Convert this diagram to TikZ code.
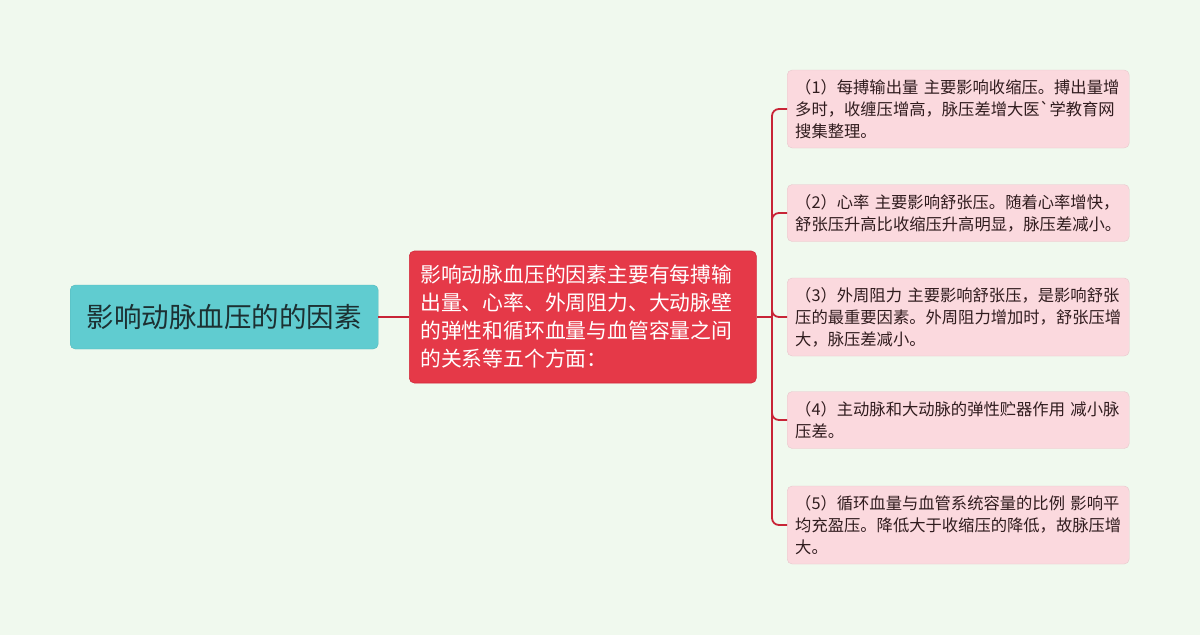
\documentclass[tikz,border=0pt]{standalone}
\usepackage{fontspec}
\setmainfont{Noto Sans CJK SC}
\definecolor{bgcol}{RGB}{240,249,238}
\definecolor{rootcol}{RGB}{96,204,208}
\definecolor{roottext}{RGB}{28,48,50}
\definecolor{midcol}{RGB}{229,57,72}
\definecolor{midline}{RGB}{210,40,58}
\definecolor{leafcol}{RGB}{251,217,222}
\definecolor{leaftext}{RGB}{48,28,30}
\definecolor{linkcol}{RGB}{200,36,54}
\begin{document}
\begin{tikzpicture}[x=1pt,y=-1pt]
\tikzstyle{myroot} = [rectangle, rounded corners=5pt, fill=rootcol, draw=rootcol!90!black, line width=0.4pt, text=roottext, anchor=west, minimum width=308pt, minimum height=64pt, inner sep=0pt, font=\fontsize{27.5}{30}\selectfont] % центральная тема
\tikzstyle{mymid} = [rectangle, rounded corners=5pt, fill=midcol, draw=midline, line width=0.6pt, text=white, anchor=west, text width=325pt, minimum height=132pt, inner xsep=11pt, inner ysep=0pt, align=left, font=\fontsize{20.8}{28}\selectfont] % узел второго уровня
\tikzstyle{myleaf} = [rectangle, rounded corners=5pt, fill=leafcol, draw=leafcol!92!black, line width=0.4pt, text=leaftext, anchor=west, text width=326pt, inner xsep=8pt, inner ysep=0pt, align=left, font=\fontsize{16.3}{22}\selectfont] % листья
\tikzstyle{mylink} = [draw=linkcol, line width=1.8pt, rounded corners=7pt] % связи

% фон
\fill[bgcol] (0,0) rectangle (1200,635);
\useasboundingbox (0,0) rectangle (1200,635);

\node[myroot] (root) at (70,317) {影响动脉血压的的因素};
\node[mymid] (mid) at (409,317) {影响动脉血压的因素主要有每搏输\\出量、心率、外周阻力、大动脉壁\\的弹性和循环血量与血管容量之间\\的关系等五个方面：};

\node[myleaf, minimum height=78pt] (f1) at (787,109) {（1）每搏输出量 主要影响收缩压。搏出量增\\多时，收缠压增高，脉压差增大医\textasciigrave 学教育网\\搜集整理。};
\node[myleaf, minimum height=57pt] (f2) at (787,213) {（2）心率 主要影响舒张压。随着心率增快，\\舒张压升高比收缩压升高明显，脉压差减小。};
\node[myleaf, minimum height=78pt] (f3) at (787,317) {（3）外周阻力 主要影响舒张压，是影响舒张\\压的最重要因素。外周阻力增加时，舒张压增\\大，脉压差减小。};
\node[myleaf, minimum height=57pt] (f4) at (787,420) {（4）主动脉和大动脉的弹性贮器作用 减小脉\\压差。};
\node[myleaf, minimum height=78pt] (f5) at (787,525) {（5）循环血量与血管系统容量的比例 影响平\\均充盈压。降低大于收缩压的降低，故脉压增\\大。};

\coordinate (fork) at (772,317); % точка разветвления

\draw[mylink] (root.east) -- (mid.west);
\draw[mylink] (mid.east) -- (fork);
\foreach \f in {f1,f2,f3,f4,f5}
    \draw[mylink] (fork) |- (\f.west);
\end{tikzpicture}
\end{document}
